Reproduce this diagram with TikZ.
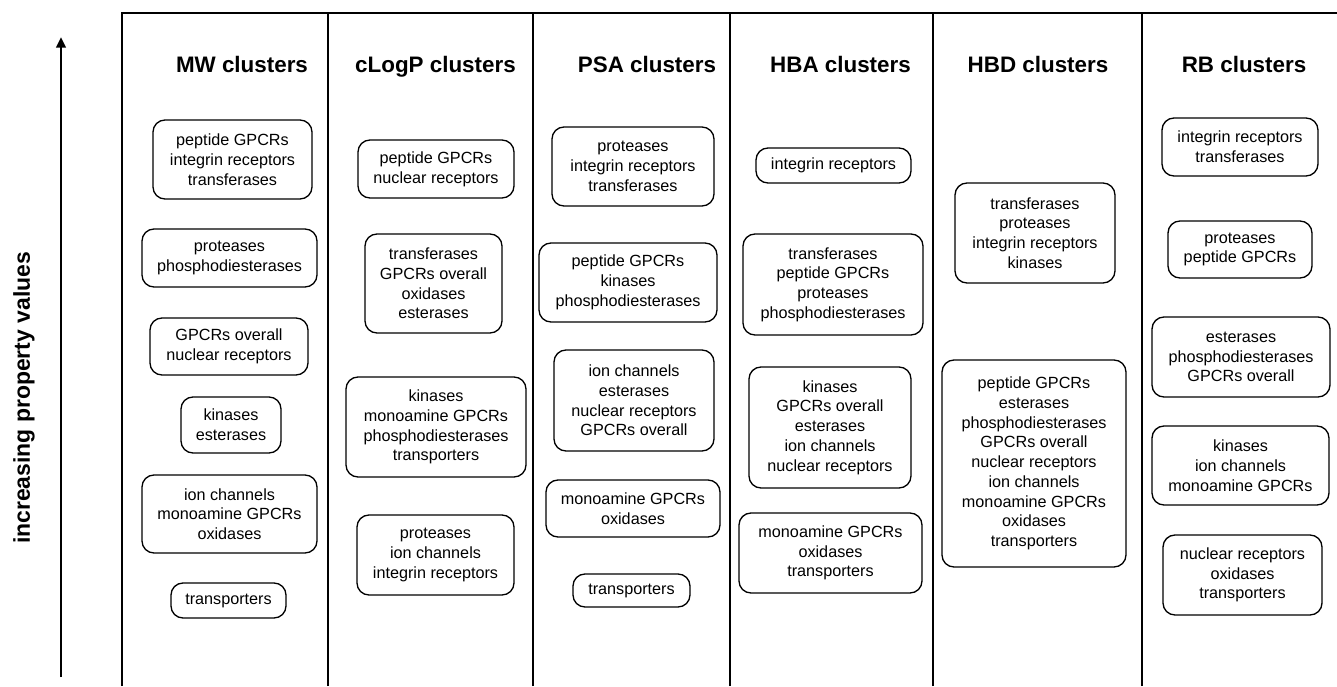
\documentclass[tikz,border=0pt]{standalone}
\usepackage{fontspec}
\setmainfont{Liberation Sans}
\usetikzlibrary{arrows.meta}
\tikzset{
  box/.style 2 args={draw, line width=1pt, rounded corners=9pt, align=center, inner sep=0pt,
    minimum width=#1*0.75pt, minimum height=#2*0.75pt, font=\fontsize{12.15}{14.8}\selectfont},
  title/.style={font=\bfseries\fontsize{16.8}{20}\selectfont, anchor=base, inner sep=0pt},
  frame/.style={line width=1.2pt}}
\begin{document}
\begin{tikzpicture}[x=0.75pt,y=-0.75pt]
\useasboundingbox (0,0) rectangle (1337,686);
% frame
\coordinate (f0b) at (122,686); \coordinate (f0t) at (122,13);
\coordinate (f1b) at (328,686); \coordinate (f1t) at (328,13);
\coordinate (f2b) at (533,686); \coordinate (f2t) at (533,13);
\coordinate (f3b) at (730,686); \coordinate (f3t) at (730,13);
\coordinate (f4b) at (933,686); \coordinate (f4t) at (933,13);
\coordinate (f5b) at (1142,686); \coordinate (f5t) at (1142,13);
\coordinate (fr) at (1337,13);
\draw[frame] (f0b) -- (f0t) -- (fr);
\draw[frame] (f1b) -- (f1t);
\draw[frame] (f2b) -- (f2t);
\draw[frame] (f3b) -- (f3t);
\draw[frame] (f4b) -- (f4t);
\draw[frame] (f5b) -- (f5t);
% arrow
\coordinate (abot) at (61,677); \coordinate (atop) at (61,37);
\draw[line width=2pt, -{Triangle[width=7pt,length=8pt]}] (abot) -- (atop);
\node[rotate=90, font=\bfseries\fontsize{17.2}{20}\selectfont, inner sep=0pt] (lab) at (24,398) {increasing property values};
% titles
\node[title] (tmw) at (242,72) {MW clusters};
\node[title] (tcl) at (435.5,72) {cLogP clusters};
\node[title] (tps) at (647,72) {PSA clusters};
\node[title] (thba) at (840.5,72) {HBA clusters};
\node[title] (thbd) at (1038,72) {HBD clusters};
\node[title] (trb) at (1244,72) {RB clusters};
% MW
\node[box={159}{79}] (m1) at (232.5,159.5) {peptide GPCRs\\integrin receptors\\transferases};
\node[box={175}{58}] (m2) at (229.5,258) {proteases\\phosphodiesterases};
\node[box={158}{57}] (m3) at (229,346.5) {GPCRs overall\\nuclear receptors};
\node[box={100}{56}] (m4) at (231,425) {kinases\\esterases};
\node[box={175}{78}] (m5) at (229.5,514) {ion channels\\monoamine GPCRs\\oxidases};
\node[box={115}{35}] (m6) at (228.5,600.5) {transporters};
% cLogP
\node[box={156}{58}] (c1) at (436,169) {peptide GPCRs\\nuclear receptors};
\node[box={137}{99}] (c2) at (433.5,283.5) {transferases\\GPCRs overall\\oxidases\\esterases};
\node[box={180}{100}] (c3) at (436,427) {kinases\\monoamine GPCRs\\phosphodiesterases\\transporters};
\node[box={157}{80}] (c4) at (435.5,555) {proteases\\ion channels\\integrin receptors};
% PSA
\node[box={162}{79}] (p1) at (633,166.5) {proteases\\integrin receptors\\transferases};
\node[box={178}{79}] (p2) at (628,282.5) {peptide GPCRs\\kinases\\phosphodiesterases};
\node[box={160}{101}] (p3) at (634,400.5) {ion channels\\esterases\\nuclear receptors\\GPCRs overall};
\node[box={174}{57}] (p4) at (633,508.5) {monoamine GPCRs\\oxidases};
\node[box={117}{33}] (p5) at (631.5,590.5) {transporters};
% HBA
\node[box={155}{35}] (h1) at (833.5,165.5) {integrin receptors};
\node[box={180}{101}] (h2) at (833,284.5) {transferases\\peptide GPCRs\\proteases\\phosphodiesterases};
\node[box={162}{121}] (h3) at (830,427.5) {kinases\\GPCRs overall\\esterases\\ion channels\\nuclear receptors};
\node[box={183}{80}] (h4) at (830.5,553) {monoamine GPCRs\\oxidases\\transporters};
% HBD
\node[box={160}{100}] (d1) at (1035,233) {transferases\\proteases\\integrin receptors\\kinases};
\node[box={184}{207}] (d2) at (1034,463.5) {peptide GPCRs\\esterases\\phosphodiesterases\\GPCRs overall\\nuclear receptors\\ion channels\\monoamine GPCRs\\oxidases\\transporters};
% RB
\node[box={156}{58}] (r1) at (1240,147) {integrin receptors\\transferases};
\node[box={144}{57}] (r2) at (1240,249.5) {proteases\\peptide GPCRs};
\node[box={178}{80}] (r3) at (1241,357) {esterases\\phosphodiesterases\\GPCRs overall};
\node[box={177}{79}] (r4) at (1240.5,465.5) {kinases\\ion channels\\monoamine GPCRs};
\node[box={159}{80}] (r5) at (1242.5,575) {nuclear receptors\\oxidases\\transporters};
\end{tikzpicture}
\end{document}
